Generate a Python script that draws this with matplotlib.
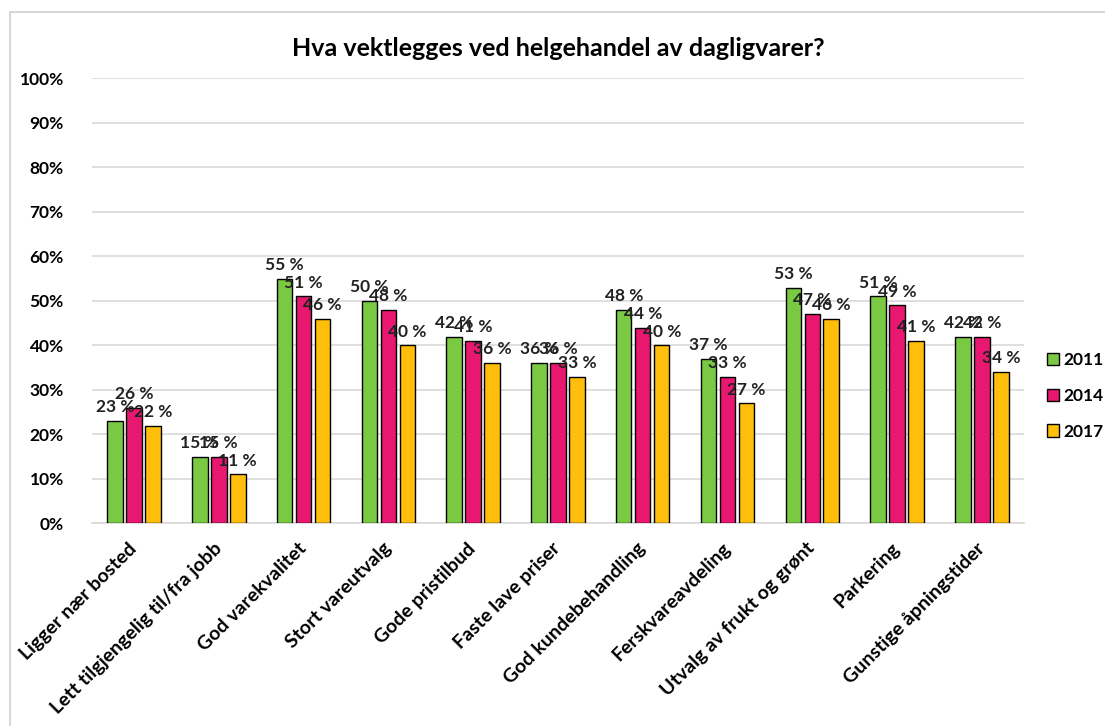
import matplotlib.pyplot as plt
import numpy as np
from matplotlib.patches import Rectangle
from matplotlib.transforms import ScaledTranslation

plt.rcParams['font.family'] = ['Lato', 'DejaVu Sans']
plt.rcParams['font.weight'] = 'bold'

categories = ["Ligger nær bosted", "Lett tilgjengelig til/fra jobb", "God varekvalitet",
              "Stort vareutvalg", "Gode pristilbud", "Faste lave priser",
              "God kundebehandling", "Ferskvareavdeling", "Utvalg av frukt og grønt",
              "Parkering", "Gunstige åpningstider"]
years = ["2011", "2014", "2017"]
v2011 = [23, 15, 55, 50, 42, 36, 48, 37, 53, 51, 42]
v2014 = [26, 15, 51, 48, 41, 36, 44, 33, 47, 49, 42]
v2017 = [22, 11, 46, 40, 36, 33, 40, 27, 46, 41, 34]
colors = ["#7AC943", "#E8176F", "#FFBE0B"]

fig = plt.figure(figsize=(11.05, 7.26), dpi=100)
fig.patches.append(Rectangle((0.009, -0.01), 1.0, 0.994, transform=fig.transFigure,
                             fill=False, edgecolor="#d0d0d0", linewidth=1.2))
ax = fig.add_axes([0.0829, 0.279, 0.844, 0.613])

x = np.arange(len(categories))
w = 0.183
step = 0.224
for i, (vals, c, yr) in enumerate(zip([v2011, v2014, v2017], colors, years)):
    pos = x + (i - 1) * step
    ax.bar(pos, vals, w, color=c, edgecolor="black", linewidth=1, label=yr, zorder=3)
    for p, v in zip(pos, vals):
        ax.text(p, v + 1.3, f"{v} %", ha="center", va="bottom", fontsize=12.5,
                fontweight="bold", color="#222222", zorder=4)

ax.set_xlim(-0.5, len(categories) - 0.5)
ax.set_ylim(0, 100)
ax.set_yticks(np.arange(0, 101, 10))
ax.set_yticklabels([f"{t}%" for t in range(0, 101, 10)], fontsize=12.5, fontweight="bold")
ax.set_xticks(x)
ax.set_xticklabels(categories, rotation=45, ha="right", va="center", rotation_mode="anchor",
                   fontsize=14, fontweight="bold")
# nudge the slanted labels a little to the left
shift = ScaledTranslation(-6 / 72, 0, fig.dpi_scale_trans)
for lbl in ax.get_xticklabels():
    lbl.set_transform(lbl.get_transform() + shift)
ax.tick_params(axis="x", length=0, pad=16)
ax.tick_params(axis="y", length=0, pad=20)
ax.grid(axis="y", color="#d9d9d9", linewidth=1.2, zorder=0)
for s in ["top", "right", "left"]:
    ax.spines[s].set_visible(False)
ax.spines["bottom"].set_color("#d9d9d9")
ax.spines["bottom"].set_linewidth(1.2)

ax.set_title("Hva vektlegges ved helgehandel av dagligvarer?", fontsize=18,
             fontweight="bold", pad=16)

fig.legend(loc="center left", bbox_to_anchor=(0.941, 0.455), borderaxespad=0,
           frameon=False, fontsize=12.5, handlelength=0.7, handleheight=0.7,
           labelspacing=1.15, handletextpad=0.25)

fig.savefig("out.png", dpi=100)
